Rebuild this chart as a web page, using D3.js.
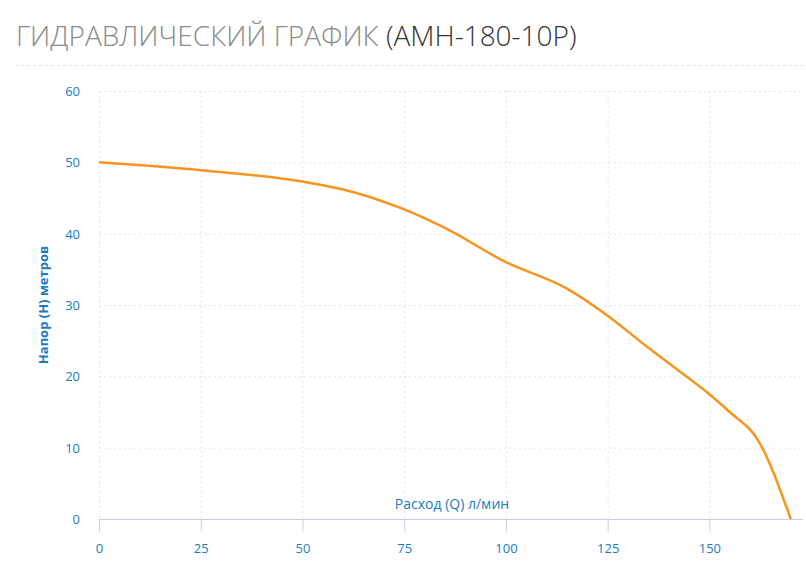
<!DOCTYPE html>
<html><head><meta charset="utf-8">
<script src="https://cdn.jsdelivr.net/npm/d3@7"></script>
<style>
body{margin:0;background:#fff;font-family:"Open Sans",sans-serif;}
</style></head>
<body><svg width="806" height="578"></svg>
<script>
const flow = [0, 25, 50, 60, 75, 85, 100, 115, 125, 135, 142, 150, 155, 162, 170];
const head = [50, 48.9, 47.3, 46.2, 43.4, 40.8, 36, 32.3, 28.5, 24, 21, 17.5, 15, 11, 0];
const xTicks = [0, 25, 50, 75, 100, 125, 150];
const yTicks = [0, 10, 20, 30, 40, 50, 60];
const blue = "#1b7bbd";

const svg = d3.select("svg");

// Title
const title = svg.append("text").attr("x", 16).attr("y", 46)
  .style("font-size", "28px").style("font-weight", 300);
title.append("tspan").attr("fill", "#8a8a8a").text("ГИДРАВЛИЧЕСКИЙ ГРАФИК ");
title.append("tspan").attr("fill", "#333").text("(АМН-180-10Р)");

svg.append("line").attr("x1", 15).attr("x2", 806).attr("y1", 65.5).attr("y2", 65.5)
  .attr("stroke", "#e2e2e2").attr("stroke-dasharray", "3,3");

const x = d3.scaleLinear().domain([0, 173]).range([99, 803]);
const y = d3.scaleLinear().domain([0, 60]).range([519, 91]);

// Grid
svg.append("g").selectAll("line").data(xTicks).join("line")
  .attr("x1", d => x(d) + 0.5).attr("x2", d => x(d) + 0.5)
  .attr("y1", y(60)).attr("y2", y(0))
  .attr("stroke", "#e4e4e4").attr("stroke-dasharray", "2,3");
svg.append("g").selectAll("line").data(yTicks.slice(1)).join("line")
  .attr("x1", x(0)).attr("x2", 803)
  .attr("y1", d => y(d) + 0.5).attr("y2", d => y(d) + 0.5)
  .attr("stroke", "#e4e4e4").attr("stroke-dasharray", "2,3");

// X axis
const xa = svg.append("g").attr("transform", `translate(0,${y(0) + 0.5})`)
  .call(d3.axisBottom(x).tickValues(xTicks).tickSize(12).tickPadding(12));
xa.select(".domain").attr("stroke", "#c7cfe6").attr("d", `M${x(0)},0H803`);
xa.selectAll(".tick line").attr("stroke", "#c7cfe6");
xa.selectAll("text").attr("fill", blue).style("font-size", "13px").style("font-family", "Open Sans");

// Y axis labels
svg.append("g").selectAll("text").data(yTicks).join("text")
  .attr("x", 80).attr("y", d => y(d) + 5).attr("text-anchor", "end")
  .attr("fill", blue).style("font-size", "13px").text(d => d);

// Axis titles
svg.append("text").attr("x", 452).attr("y", 509).attr("text-anchor", "middle")
  .attr("fill", blue).style("font-size", "14px").text("Расход (Q) л/мин");
svg.append("text").attr("transform", `translate(48,305) rotate(-90)`)
  .attr("text-anchor", "middle").attr("fill", blue)
  .style("font-size", "13px").style("font-weight", "bold").text("Напор (H) метров");

// Curve
const pts = flow.map((f, i) => [f, head[i]]);
svg.append("path").datum(pts)
  .attr("fill", "none").attr("stroke", "#f7941d").attr("stroke-width", 2.5)
  .attr("d", d3.line().x(d => x(d[0])).y(d => y(d[1])).curve(d3.curveMonotoneX));
</script></body></html>
